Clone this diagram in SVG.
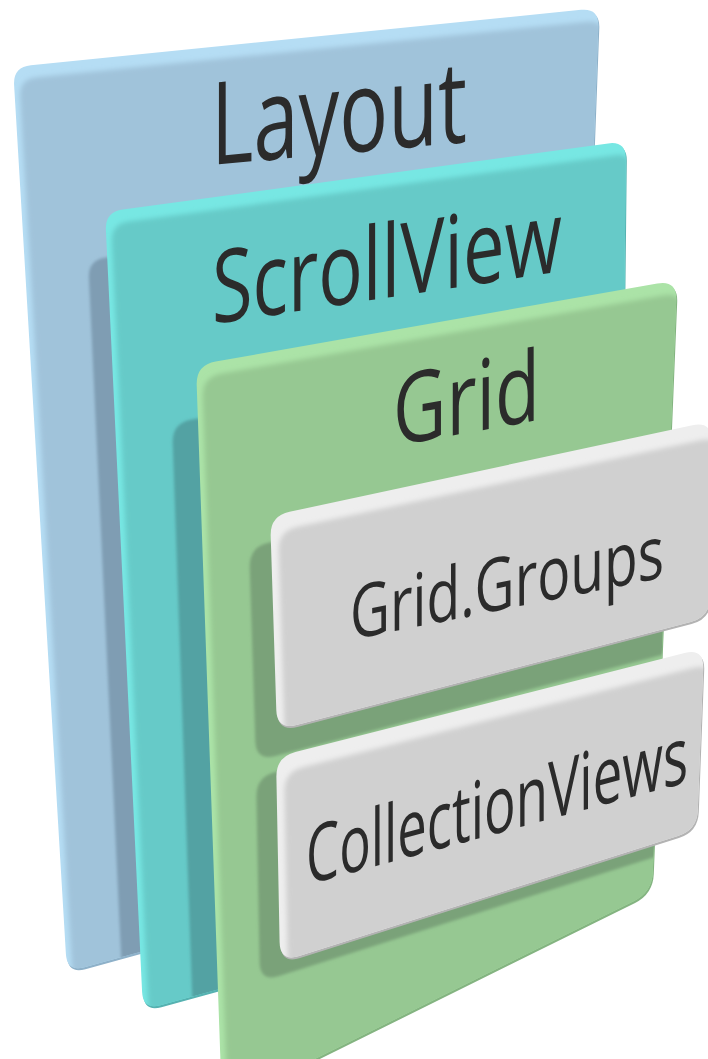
<svg xmlns="http://www.w3.org/2000/svg" width="708" height="1059" viewBox="0 0 708 1059">
<defs>
<style>
.lbl{font-family:"Open Sans","Noto Sans","DejaVu Sans",sans-serif;fill:#2b2b2b;}
</style>
<filter id="soft" x="-10%" y="-10%" width="120%" height="120%"><feGaussianBlur stdDeviation="2.5"/></filter>
<filter id="softS" x="-10%" y="-10%" width="120%" height="120%"><feGaussianBlur stdDeviation="1.5"/></filter>
<path id="pBlue" d="M30.9,65.2 L581.1,9.8 Q599,8 598.3,26 L568.7,816 Q568,834 550.6,838.8 L84.4,967.2 Q67,972 65.9,954 L14.1,85 Q13,67 30.9,65.2 Z"/>
<path id="pTeal" d="M122.8,209.6 L608.2,143.4 Q626,141 625.8,159 L618.2,862 Q618,880 600.6,884.8 L160.4,1005.2 Q143,1010 142.1,992 L105.9,230 Q105,212 122.8,209.6 Z"/>
<path id="pGreen" d="M215.7,361.5 L657.3,283.5 Q677,280 676.2,300 L652.8,872 Q652,892 634.1,900.9 L239.9,1096.1 Q222,1105 221.3,1085 L196.7,385 Q196,365 215.7,361.5 Z"/>
<path id="pGray1" d="M289.6,511.8 L692.4,425.2 Q712,421 711.8,441 L710.2,597 Q710,617 690.6,622.1 L296.4,725 Q277,730 276.3,710 L270.7,536 Q270,516 289.6,511.8 Z"/>
<path id="pGray2" d="M295.4,752.1 L684.6,652.9 Q704,648 703.2,668 L697.8,810 Q697,830 677.9,836 L299.1,956 Q280,962 279.6,942 L276.4,777 Q276,757 295.4,752.1 Z"/>
<clipPath id="cBlue"><use href="#pBlue"/></clipPath>
<clipPath id="cTeal"><use href="#pTeal"/></clipPath>
<clipPath id="cGreen"><use href="#pGreen"/></clipPath>
<clipPath id="cGray1"><use href="#pGray1"/></clipPath>
<clipPath id="cGray2"><use href="#pGray2"/></clipPath>
</defs>
<rect width="708" height="1059" fill="#ffffff"/>

<g id="node-layout">
 <use href="#pBlue" fill="#8eb1c9" transform="translate(1,2)"/>
 <use href="#pBlue" fill="#b5ddf4"/>
 <g clip-path="url(#cBlue)"><use href="#pBlue" fill="#a0c3da" transform="translate(6,12)" filter="url(#soft)"/></g>
 <text class="lbl" font-size="115" transform="matrix(1,-0.09,0,1,211,165)" textLength="256" lengthAdjust="spacingAndGlyphs">Layout</text>
</g>

<g id="node-scrollview">
 <g clip-path="url(#cBlue)"><use href="#pTeal" fill="#7f9db3" transform="translate(-17,48)" filter="url(#softS)"/></g>
 <use href="#pTeal" fill="#56b2b1" transform="translate(1,2)"/>
 <use href="#pTeal" fill="#77e7e3"/>
 <g clip-path="url(#cTeal)"><use href="#pTeal" fill="#66cac8" transform="translate(6,12)" filter="url(#soft)"/></g>
 <text class="lbl" font-size="101" transform="matrix(1,-0.15,0,1,212,324)" textLength="350" lengthAdjust="spacingAndGlyphs">ScrollView</text>
</g>

<g id="node-grid">
 <g clip-path="url(#cTeal)"><use href="#pGreen" fill="#53a2a3" transform="translate(-24,58)" filter="url(#softS)"/></g>
 <use href="#pGreen" fill="#84b481" transform="translate(1,2)"/>
 <use href="#pGreen" fill="#abe3a7"/>
 <g clip-path="url(#cGreen)"><use href="#pGreen" fill="#96c892" transform="translate(6,12)" filter="url(#soft)"/></g>
 <text class="lbl" font-size="98" transform="matrix(1,-0.178,0,1,393,446)" textLength="147" lengthAdjust="spacingAndGlyphs">Grid</text>
</g>

<g id="node-gridgroups">
 <g clip-path="url(#cGreen)"><use href="#pGray1" fill="#7aa279" transform="translate(-21,31)" filter="url(#softS)"/></g>
 <use href="#pGray1" fill="#b3b3b3" transform="translate(1,2)"/>
 <use href="#pGray1" fill="#eeeeee"/>
 <g clip-path="url(#cGray1)"><use href="#pGray1" fill="#d0d0d0" transform="translate(8,15)" filter="url(#soft)"/></g>
 <text class="lbl" font-size="74" transform="matrix(1,-0.2,0,1,350,640)" textLength="314" lengthAdjust="spacingAndGlyphs">Grid.Groups</text>
</g>

<g id="node-collectionviews">
 <g clip-path="url(#cGreen)"><use href="#pGray2" fill="#7aa279" transform="translate(-20,20)" filter="url(#softS)"/></g>
 <use href="#pGray2" fill="#b3b3b3" transform="translate(1,2)"/>
 <use href="#pGray2" fill="#eeeeee"/>
 <g clip-path="url(#cGray2)"><use href="#pGray2" fill="#d0d0d0" transform="translate(8,15)" filter="url(#soft)"/></g>
 <text class="lbl" font-size="80" transform="matrix(1,-0.27,0,1,306,885)" textLength="382" lengthAdjust="spacingAndGlyphs">CollectionViews</text>
</g>

<g id="connectors"/>
</svg>
